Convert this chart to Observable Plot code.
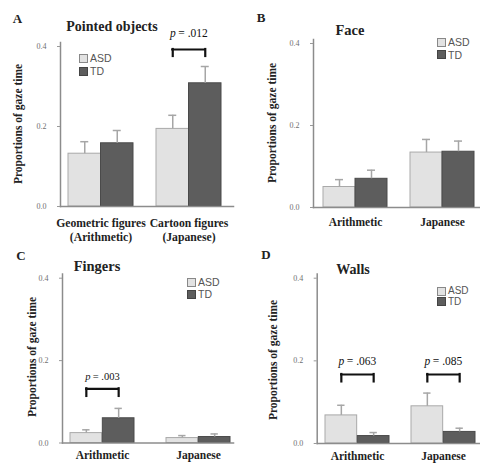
<!DOCTYPE html>
<html>
<head>
<meta charset="utf-8">
<script src="https://cdn.jsdelivr.net/npm/d3@7"></script>
<script src="https://cdn.jsdelivr.net/npm/@observablehq/plot@0.6"></script>
<style>
  html, body { margin: 0; padding: 0; background: #fff; }
  #root { position: relative; width: 480px; height: 463px; overflow: hidden; background: #fff; }
  #root svg { position: absolute; left: 0; top: 0; }
  .lbl { position: absolute; white-space: nowrap; font-family: "Liberation Serif", "DejaVu Serif", serif; font-weight: bold; color: #222; }
  .ylab { transform: translate(-50%, -50%) rotate(-90deg); }
  .ttl { transform: translate(-50%, -50%); }
  .leg { position: absolute; font-family: "Liberation Sans", Arial, sans-serif; color: #555; line-height: 1; }
  .leg .row { position: absolute; left: 0; display: flex; align-items: center; }
  .leg .sw { width: 7px; height: 7px; border: 1px solid #888; margin-right: 2px; }
</style>
</head>
<body>
<div id="root"></div>
<script>
// ---- Data ----
const groups = ["ASD", "TD"];
const yTicks = [0, 0.2, 0.4];

// A: Pointed objects
const catsA = ["Geometric figures\n(Arithmetic)", "Cartoon figures\n(Japanese)"];
const asdA = [0.132, 0.194];
const asdErrA = [0.162, 0.228];
const tdA = [0.158, 0.308];
const tdErrA = [0.190, 0.350];
const pCatA = ["Cartoon figures\n(Japanese)"];
const pTextA = [".012"];

// B: Face
const catsB = ["Arithmetic", "Japanese"];
const asdB = [0.050, 0.134];
const asdErrB = [0.068, 0.166];
const tdB = [0.070, 0.136];
const tdErrB = [0.091, 0.162];

// C: Fingers
const catsC = ["Arithmetic", "Japanese"];
const asdC = [0.024, 0.012];
const asdErrC = [0.032, 0.018];
const tdC = [0.060, 0.0145];
const tdErrC = [0.084, 0.022];
const pCatC = ["Arithmetic"];
const pTextC = [".003"];

// D: Walls
const catsD = ["Arithmetic", "Japanese"];
const asdD = [0.068, 0.090];
const asdErrD = [0.0925, 0.122];
const tdD = [0.018, 0.028];
const tdErrD = [0.0265, 0.037];
const pCatD = ["Arithmetic", "Japanese"];
const pTextD = [".063", ".085"];

// ---- Layout ----
const W = 480, H = 463;
const SERIF = "Liberation Serif, DejaVu Serif, serif";
const root = document.getElementById("root");

function panel(cfg) {
  const {cats, asd, asdErr, td, tdErr, pCats = [], pTexts = [], bracketTop, bracketLeg, pY,
         axisX, right, y0, y04, axisTop, range, gap, xFont, xPad, pFont} = cfg;
  const bw = (range[1] - range[0] - gap) / 2;
  const asdRows = cats.map((c, i) => ({cat: c, v: asd[i], e: asdErr[i]}));
  const tdRows = cats.map((c, i) => ({cat: c, v: td[i], e: tdErr[i]}));
  const br = pCats.map((c, i) => ({cat: c, p: pTexts[i]}));
  const cap = 4;
  const tw = pFont * 3.3;
  const marks = [
    Plot.barY(asdRows, {x: "cat", y: "v", insetRight: bw / 2, fill: "#e2e2e2", stroke: "#a9a9a9", strokeWidth: 1}),
    Plot.barY(tdRows, {x: "cat", y: "v", insetLeft: bw / 2, fill: "#5d5d5d", stroke: "#4a4a4a", strokeWidth: 1}),
    Plot.ruleX(asdRows, {x: "cat", y1: "v", y2: "e", dx: -bw / 4, stroke: "#a6a6a6", strokeWidth: 1.5}),
    Plot.tickY(asdRows, {x: "cat", y: "e", insetLeft: bw / 4 - cap, insetRight: 3 * bw / 4 - cap, stroke: "#a6a6a6", strokeWidth: 1.5}),
    Plot.ruleX(tdRows, {x: "cat", y1: "v", y2: "e", dx: bw / 4, stroke: "#a6a6a6", strokeWidth: 1.5}),
    Plot.tickY(tdRows, {x: "cat", y: "e", insetLeft: 3 * bw / 4 - cap, insetRight: bw / 4 - cap, stroke: "#a6a6a6", strokeWidth: 1.5}),
    Plot.frame({anchor: "left", stroke: "#8c8c8c", strokeWidth: 1.5}),
    Plot.frame({anchor: "bottom", stroke: "#8c8c8c", strokeWidth: 1.5}),
    Plot.axisY({ticks: yTicks, tickFormat: d3.format(".1f"), tickSize: 3, tickPadding: 11, fontSize: 8,
                fontFamily: SERIF, stroke: "#999", fill: "#6f6f6f", label: null}),
    Plot.axisX({tickSize: 0, tickPadding: xPad, fontSize: xFont, fontWeight: "bold", fontFamily: SERIF,
                fill: "#1e1e1e", lineHeight: 1.22, label: null}),
    Plot.tickY(br, {x: "cat", y: () => bracketTop, insetLeft: bw / 4, insetRight: bw / 4, stroke: "#111", strokeWidth: 2.2, strokeLinecap: "square"}),
    Plot.ruleX(br, {x: "cat", y1: () => bracketLeg, y2: () => bracketTop, dx: -bw / 4, stroke: "#111", strokeWidth: 2.2, strokeLinecap: "square"}),
    Plot.ruleX(br, {x: "cat", y1: () => bracketLeg, y2: () => bracketTop, dx: bw / 4, stroke: "#111", strokeWidth: 2.2, strokeLinecap: "square"}),
    Plot.text(br, {x: "cat", y: () => pY, text: () => "p", fontStyle: "italic", fontSize: pFont, fontFamily: SERIF,
                   textAnchor: "start", dx: -tw / 2, fill: "#111"}),
    Plot.text(br, {x: "cat", y: () => pY, text: (d) => "= " + d.p, fontSize: pFont, fontFamily: SERIF,
                   textAnchor: "start", dx: -tw / 2 + pFont * 0.72, fill: "#111"})
  ];
  const chart = Plot.plot({
    width: W, height: H,
    marginLeft: axisX, marginRight: W - right, marginTop: axisTop, marginBottom: H - y0,
    style: {background: "transparent", overflow: "visible"},
    x: {type: "band", domain: cats, range: range, paddingInner: gap / (bw + gap), paddingOuter: 0, label: null},
    y: {domain: [0, 0.4], insetTop: y04 - axisTop, label: null},
    marks
  });
  root.appendChild(chart);
}

function addText(cls, txt, x, y, size) {
  const d = document.createElement("div");
  d.className = "lbl " + cls;
  d.textContent = txt;
  d.style.left = x + "px";
  d.style.top = y + "px";
  d.style.fontSize = size + "px";
  root.appendChild(d);
}

function addLegend(x, y, step, size) {
  const lg = document.createElement("div");
  lg.className = "leg";
  lg.style.left = x + "px";
  lg.style.top = y + "px";
  lg.style.fontSize = size + "px";
  const fills = ["#e2e2e2", "#5d5d5d"];
  groups.forEach((g, i) => {
    const r = document.createElement("div");
    r.className = "row";
    r.style.top = (i * step) + "px";
    const sw = document.createElement("div");
    sw.className = "sw";
    sw.style.background = fills[i];
    if (i === 1) sw.style.borderColor = "#444";
    const t = document.createElement("span");
    t.textContent = g;
    r.appendChild(sw); r.appendChild(t);
    lg.appendChild(r);
  });
  root.appendChild(lg);
}

panel({cats: catsA, asd: asdA, asdErr: asdErrA, td: tdA, tdErr: tdErrA,
       pCats: pCatA, pTexts: pTextA, bracketTop: 0.3925, bracketLeg: 0.375, pY: 0.432,
       axisX: 60, right: 233, y0: 206, y04: 46, axisTop: 42, range: [68, 221], gap: 23, xFont: 11.7, xPad: 10, pFont: 11.5});
panel({cats: catsB, asd: asdB, asdErr: asdErrB, td: tdB, tdErr: tdErrB,
       axisX: 313, right: 479, y0: 207, y04: 43, axisTop: 39, range: [323, 474], gap: 23, xFont: 11.5, xPad: 9, pFont: 11});
panel({cats: catsC, asd: asdC, asdErr: asdErrC, td: tdC, tdErr: tdErrC,
       pCats: pCatC, pTexts: pTextC, bracketTop: 0.1316, bracketLeg: 0.113, pY: 0.162,
       axisX: 62, right: 233, y0: 442.5, y04: 277.7, axisTop: 273.5, range: [70, 231], gap: 31.7, xFont: 11.5, xPad: 6.5, pFont: 10.5});
panel({cats: catsD, asd: asdD, asdErr: asdErrD, td: tdD, tdErr: tdErrD,
       pCats: pCatD, pTexts: pTextD, bracketTop: 0.167, bracketLeg: 0.149, pY: 0.2,
       axisX: 316.7, right: 479, y0: 443, y04: 277.7, axisTop: 273.5, range: [325, 476], gap: 21.7, xFont: 11.5, xPad: 6.5, pFont: 11.5});

// Panel letters
addText("ttl", "A", 17.5, 19, 13);
addText("ttl", "B", 261, 17.5, 13);
addText("ttl", "C", 21, 256, 13);
addText("ttl", "D", 266, 255, 13);
// Titles
addText("ttl", "Pointed objects", 112, 27, 14);
addText("ttl", "Face", 350, 30, 14.5);
addText("ttl", "Fingers", 97, 266, 14.5);
addText("ttl", "Walls", 353, 270, 14);
// Y labels
const ylab = "Proportions of gaze time";
addText("ylab", ylab, 18, 124, 11.5);
addText("ylab", ylab, 272, 123, 11.5);
addText("ylab", ylab, 32, 357, 11.5);
addText("ylab", ylab, 272.5, 360, 11.5);
// Legends
addLegend(79, 53, 13.3, 10.5);
addLegend(437, 37, 12.7, 10.5);
addLegend(187, 277, 12.3, 10.5);
addLegend(437, 286, 10.5, 10);
</script>
</body>
</html>
